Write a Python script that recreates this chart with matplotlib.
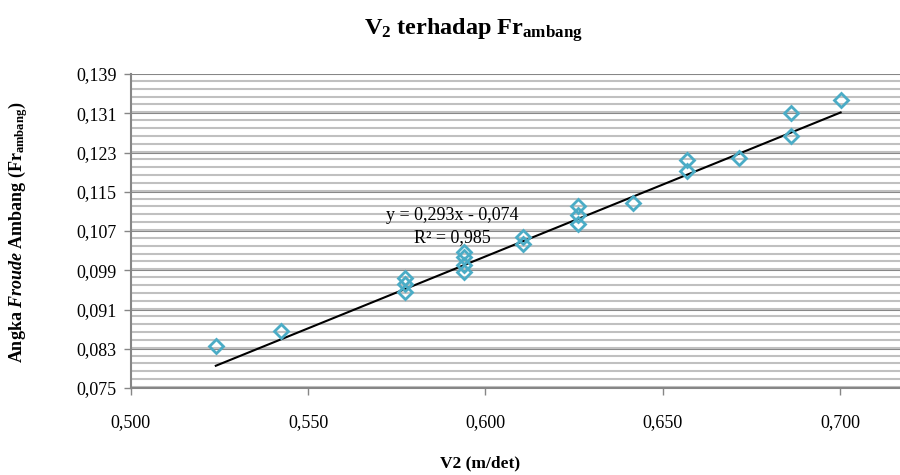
import matplotlib
matplotlib.use("Agg")
import matplotlib.pyplot as plt
import numpy as np
from matplotlib.ticker import MultipleLocator, FuncFormatter

plt.rcParams['font.family'] = ['Liberation Serif', 'DejaVu Serif']
plt.rcParams['mathtext.fontset'] = 'custom'
plt.rcParams['mathtext.rm'] = 'Liberation Serif'
plt.rcParams['mathtext.it'] = 'Liberation Serif:italic'
plt.rcParams['mathtext.bf'] = 'Liberation Serif:bold'
plt.rcParams['mathtext.bfit'] = 'Liberation Serif:bold:italic'

# Data
v2 = [0.524, 0.5423, 0.5774, 0.5774, 0.5774,
      0.594, 0.594, 0.594, 0.594,
      0.6105, 0.6105,
      0.6261, 0.6261, 0.6261,
      0.6416,
      0.6568, 0.6568,
      0.6715,
      0.6862, 0.6862,
      0.7002]
fr = [0.0836, 0.0866, 0.0974, 0.0962, 0.0946,
      0.1027, 0.1017, 0.1001, 0.0986,
      0.1058, 0.1043,
      0.1121, 0.1103, 0.1084,
      0.1128,
      0.1215, 0.1193,
      0.1218,
      0.1310, 0.1264,
      0.1337]
slope, intercept = 0.293, -0.074
eq_text = "y = 0,293x - 0,074"
r2_text = "R² = 0,985"

x_ticks = [0.500, 0.550, 0.600, 0.650, 0.700]
y_ticks = [0.075, 0.083, 0.091, 0.099, 0.107, 0.115, 0.123, 0.131, 0.139]

fig = plt.figure(figsize=(9, 4.75), dpi=100)
ax = fig.add_axes([130.7/900, 1-388/475, 1-130.7/900, (388-74)/475])

xs = np.array(v2)
ys = np.array(fr)
xl = np.array([xs.min(), xs.max()])
ax.plot(xl, slope*xl + intercept, color='black', lw=1.5, zorder=3)

ax.plot(xs, ys, linestyle='none', marker='D', ms=7.5, mfc='none',
        mec='#4BACC6', mew=2, zorder=4)

ax.set_xlim(0.5, 0.5 + (900-130.7)/3546)
ax.set_ylim(0.075, 0.139)
ax.set_xticks(x_ticks)
ax.set_yticks(y_ticks)
ax.yaxis.set_minor_locator(MultipleLocator(0.0016))
fmt3 = FuncFormatter(lambda v, p: f"{v:.3f}".replace('.', ','))
ax.xaxis.set_major_formatter(fmt3)
ax.yaxis.set_major_formatter(fmt3)

ax.grid(which='major', axis='y', color='#868686', lw=1.5)
ax.grid(which='minor', axis='y', color='#C0C0C0', lw=1.5)
ax.set_axisbelow(True)
for s in ['top', 'right']:
    ax.spines[s].set_visible(False)
for s in ['left', 'bottom']:
    ax.spines[s].set_color('#868686')
    ax.spines[s].set_linewidth(1.5)
ax.tick_params(axis='both', which='major', direction='out', length=5,
               color='#868686', width=1, labelsize=13)
ax.tick_params(axis='y', which='minor', length=0)
ax.tick_params(axis='y', pad=5)
ax.tick_params(axis='x', pad=14)

ax.text(0.5906, 0.1101, eq_text, fontsize=13, ha='center', va='center')
ax.text(0.5906, 0.1057, r2_text, fontsize=13, ha='center', va='center')

fig.text(473/900, 1-30/475, r'$\mathbf{V_2\ terhadap\ Fr_{ambang}}$',
         fontsize=17.5, ha='center', va='center')
fig.text(18/900, 1-232/475,
         r'$\mathbf{Angka}\ \mathbfit{Froude}\ \mathbf{Ambang\ (Fr_{ambang})}$',
         fontsize=13, ha='center', va='center', rotation=90)
fig.text(480/900, 1-463/475, 'V2 (m/det)', fontsize=12.5, fontweight='bold',
         ha='center', va='center')

fig.savefig('out.png', dpi=100)
